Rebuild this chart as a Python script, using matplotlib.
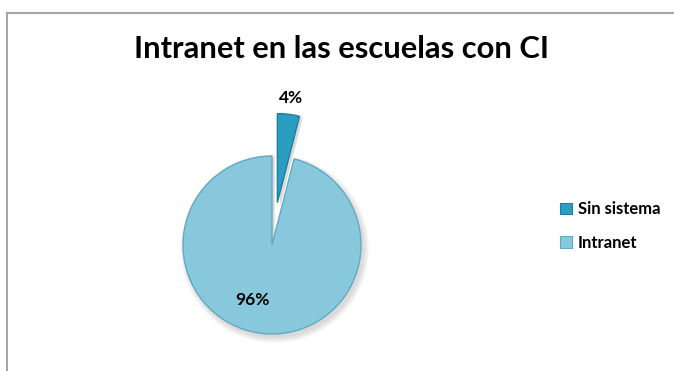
import matplotlib.pyplot as plt
from matplotlib.patches import Wedge, Rectangle
from matplotlib.lines import Line2D

categorias = ['Sin sistema', 'Intranet']
porcentajes = [4, 96]
colores = ['#2A9EC0', '#88C8DC']
bordes = ['#1C7F9E', '#62A9C2']
separacion = [0.48, 0.0]

W, H = 674, 371
fig = plt.figure(figsize=(W / 100, H / 100), dpi=100)
fig.patch.set_facecolor('white')

# marco gris del área del gráfico (solo lados superior e izquierdo visibles)
fig.add_artist(Line2D([7 / W, 1], [1 - 13 / H, 1 - 13 / H], color='#A6A6A6', lw=1.5))
fig.add_artist(Line2D([7 / W, 7 / W], [0, 1 - 13 / H], color='#A6A6A6', lw=1.5))

fig.text(341 / W, 1 - 49 / H, 'Intranet en las escuelas con CI', ha='center', va='center',
         fontsize=22.2, fontweight='bold', family='Lato')

# ejes de la torta: centro en (272, 245) px, radio 89 px
cx, cy, r = 272, 245, 89
ax = fig.add_axes([(cx - 2 * r) / W, (H - cy - 2 * r) / H, 4 * r / W, 4 * r / H])
wedges, _ = ax.pie(porcentajes, colors=colores, startangle=90, counterclock=False,
                   explode=separacion, radius=1,
                   wedgeprops=dict(linewidth=1.0))
for w, ec in zip(wedges, bordes):
    w.set_edgecolor(ec)
    w.set_zorder(3)

# sombra suave bajo cada sector
for w in wedges:
    c = w.center
    for k in range(6):
        sh = Wedge((c[0] + 0.03, c[1] - 0.04), w.r + 0.012 * k, w.theta1, w.theta2,
                   facecolor='#7F7F7F', edgecolor='none', alpha=0.05, zorder=1)
        ax.add_patch(sh)

ax.set_xlim(-2, 2)
ax.set_ylim(-2, 2)
ax.set_aspect('equal')
ax.axis('off')

# etiquetas de porcentaje
posiciones = [(0.21, 1.65), (-0.225, -0.62)]
for (x, y), p in zip(posiciones, porcentajes):
    ax.text(x, y, f'{p}%', ha='center', va='center', fontsize=12.5,
            fontweight='bold', family='Lato', zorder=5)

handles = [Rectangle((0, 0), 1, 1, facecolor=c, edgecolor=e, lw=0.8)
           for c, e in zip(colores, bordes)]
fig.legend(handles, categorias, loc='center left', bbox_to_anchor=(545 / W, 1 - 226 / H),
           frameon=False, handlelength=0.7, handleheight=0.7, handletextpad=0.35,
           labelspacing=1.05, prop=dict(family='Lato', weight='bold', size=12))

fig.savefig('out.png', dpi=100)
